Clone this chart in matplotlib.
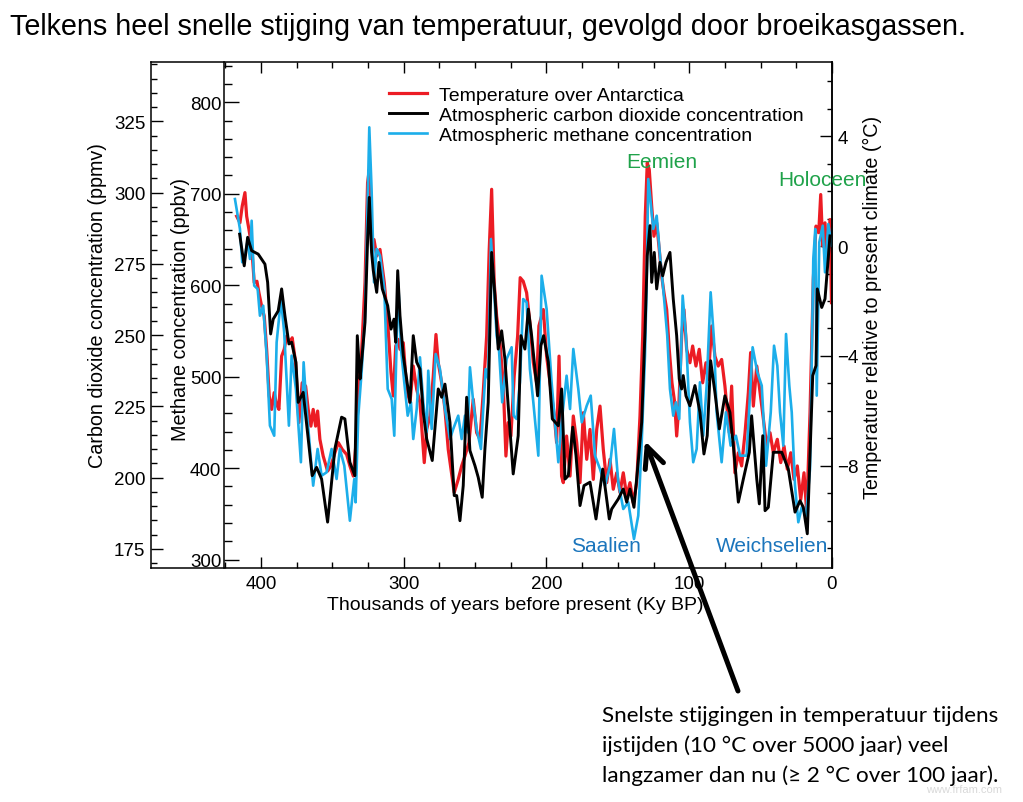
"""
Vostok ice core: temperature, CO2 and methane over the last 420 ky,
redrawn from a Dutch lecture slide.

Output
------
    out.png
"""

import matplotlib.pyplot as plt
from matplotlib.ticker import MultipleLocator, FixedLocator

plt.rcParams["font.family"] = ["Liberation Sans", "DejaVu Sans"]

W, H = 1023, 803

# ---- data ------------------------------------------------------------------
# Atmospheric CO2 (ppmv) vs age (ky BP)
co2_age = [
    414.9, 411.7, 409.3, 406.5, 401.9, 397.2, 395.3, 393.2, 391.4, 387.9,
    385.5, 383.2, 380.4, 378.5, 375.5, 373.9, 370.4, 366.9, 364.1, 361.0,
    357.5, 353.3, 348.2, 343.5, 341.2, 337.7, 334.2, 332.5, 330.6, 329.5,
    327.1, 325.3, 324.1, 322.5, 321.3, 318.9, 317.3, 315.0, 311.2, 308.9,
    306.8, 305.6, 304.2, 302.6, 300.3, 295.6, 293.3, 290.9, 288.6, 286.3,
    283.9, 280.0, 275.8, 273.4, 271.1, 267.6, 264.6, 262.9, 260.6, 258.3,
    255.9, 253.6, 250.1, 247.8, 245.0, 243.1, 240.8, 238.4, 236.1, 233.8,
    231.4, 229.1, 226.8, 223.3, 219.8, 217.9, 215.1, 212.7, 210.4, 206.2,
    203.9, 202.0, 198.7, 195.9, 191.7, 189.4, 187.0, 184.7, 181.6, 179.3,
    176.5, 173.7, 169.5, 165.3, 160.6, 156.0, 154.3, 149.7, 146.2, 143.8,
    141.5, 138.7, 136.4, 133.3, 131.0, 129.4, 127.5, 126.3, 124.5, 122.8,
    120.5, 118.6, 116.3, 113.5, 111.2, 108.8, 107.0, 105.3, 104.2, 102.3,
    99.5, 96.0, 92.5, 89.7, 87.4, 85.0, 82.0, 78.9, 75.0, 71.5,
    69.1, 65.6, 62.1, 57.9, 56.3, 52.7, 50.9, 48.5, 46.9, 44.6,
    41.1, 35.2, 30.6, 25.9, 22.4, 20.1, 17.3, 13.5, 11.2, 10.3,
    7.2, 4.9, 1.4,
]
co2_ppmv = [
    285.4, 274.3, 284.3, 279.6, 278.4, 274.9, 268.5, 250.4, 255.6, 258.5,
    266.2, 256.8, 246.9, 247.5, 240.5, 226.4, 229.9, 213.6, 200.7, 203.6,
    199.5, 184.4, 210.1, 221.2, 220.6, 205.4, 200.7, 249.8, 234.6, 240.5,
    254.5, 283.1, 298.3, 279.0, 272.6, 265.0, 275.5, 266.2, 260.3, 252.1,
    255.6, 247.5, 272.6, 256.8, 242.8, 226.4, 249.8, 240.5, 238.1, 222.9,
    213.6, 206.0, 231.1, 228.2, 232.8, 219.4, 193.7, 193.7, 184.9, 197.2,
    228.2, 209.5, 204.2, 200.1, 193.1, 210.1, 226.4, 279.0, 263.8, 245.1,
    251.5, 241.6, 225.2, 201.3, 214.7, 249.8, 245.1, 259.1, 249.8, 228.7,
    246.3, 249.8, 240.5, 220.6, 218.2, 231.1, 199.5, 200.7, 217.7, 207.7,
    190.2, 197.2, 198.4, 185.5, 203.0, 185.5, 189.0, 192.5, 196.0, 191.4,
    196.0, 189.6, 201.9, 219.4, 251.0, 277.8, 288.4, 268.5, 279.0, 266.2,
    275.5, 270.8, 275.5, 279.0, 262.7, 249.8, 234.6, 231.1, 235.8, 228.7,
    225.2, 232.3, 222.9, 208.3, 214.7, 241.0, 229.9, 217.1, 228.7, 222.9,
    211.2, 191.4, 199.5, 208.9, 221.7, 199.5, 190.8, 214.7, 188.4, 189.6,
    208.9, 208.9, 203.0, 187.9, 191.9, 189.6, 180.3, 235.8, 239.3, 266.2,
    259.7, 262.7, 284.8,
]

# Atmospheric methane (ppbv) vs age (ky BP)
ch4_age = [
    418.2, 414.7, 413.1, 411.2, 409.3, 407.7, 406.5, 404.7, 402.3, 400.7,
    398.4, 396.0, 393.7, 390.7, 389.0, 386.0, 383.7, 380.4, 378.5, 375.5,
    372.0, 370.1, 368.0, 363.4, 360.3, 357.5, 354.0, 350.5, 347.0, 344.7,
    341.6, 337.7, 334.6, 333.7, 331.8, 329.5, 327.1, 325.3, 324.1, 322.5,
    320.8, 318.9, 316.6, 313.6, 311.2, 308.4, 306.6, 304.9, 303.8, 301.9,
    299.6, 297.2, 294.9, 293.3, 290.9, 288.6, 286.3, 283.9, 282.8, 280.4,
    277.6, 274.6, 271.1, 267.6, 265.3, 261.8, 259.4, 257.1, 255.2, 253.6,
    251.3, 248.9, 245.9, 244.3, 242.6, 240.8, 238.9, 237.0, 234.9, 233.3,
    231.0, 227.9, 224.4, 223.0, 220.9, 218.6, 216.3, 213.9, 211.6, 209.2,
    205.7, 203.4, 199.9, 196.4, 191.7, 189.4, 185.9, 183.5, 181.2, 177.7,
    175.3, 171.8, 169.0, 166.0, 162.5, 159.0, 155.5, 152.7, 149.7, 146.2,
    142.7, 138.7, 135.7, 133.3, 131.0, 129.8, 128.7, 127.0, 125.2, 122.8,
    120.5, 118.2, 115.4, 113.5, 111.2, 109.3, 107.0, 104.6, 102.3, 99.5,
    97.2, 94.8, 92.5, 90.2, 87.8, 85.0, 82.7, 80.8, 77.3, 74.3,
    71.0, 67.3, 64.4, 59.8, 55.6, 52.3, 49.2, 46.2, 42.9, 40.6,
    38.3, 36.4, 34.1, 32.2, 29.9, 28.2, 25.9, 23.6, 21.2, 18.2,
    15.4, 13.1, 11.7, 10.7, 8.9, 6.5, 4.9, 2.6, 0.2,
]
ch4_ppbv = [
    694.2, 661.5, 625.1, 632.3, 648.7, 628.7, 670.5, 599.5, 595.9, 566.7,
    577.6, 523.0, 446.5, 435.5, 537.6, 584.9, 548.5, 446.5, 523.0, 486.6,
    406.5, 515.8, 464.7, 380.9, 421.0, 391.8, 395.5, 421.0, 388.2, 421.0,
    402.7, 342.6, 388.2, 362.7, 457.4, 504.8, 566.7, 686.9, 772.6, 705.2,
    603.2, 639.6, 632.3, 595.9, 486.6, 475.6, 435.5, 541.2, 603.2, 530.3,
    493.9, 457.4, 472.0, 431.9, 464.7, 521.2, 472.0, 439.2, 506.6, 442.9,
    524.8, 508.4, 464.7, 431.9, 442.9, 457.4, 431.9, 457.4, 439.2, 510.3,
    472.0, 442.9, 421.0, 464.7, 508.4, 497.5, 650.5, 603.2, 544.8, 530.3,
    472.0, 519.4, 532.2, 457.4, 453.8, 493.9, 584.9, 581.3, 508.4, 472.0,
    413.7, 610.4, 574.0, 493.9, 406.5, 450.2, 501.1, 464.7, 530.3, 486.6,
    450.2, 468.3, 479.3, 413.7, 399.1, 380.9, 402.7, 442.9, 384.6, 355.4,
    362.7, 322.6, 348.1, 428.3, 523.0, 603.2, 716.1, 690.6, 661.5, 676.0,
    632.3, 595.9, 544.8, 486.6, 457.4, 472.0, 453.8, 588.6, 544.8, 450.2,
    406.5, 421.0, 493.9, 435.5, 490.2, 592.3, 541.2, 461.1, 406.5, 461.1,
    424.6, 435.5, 413.7, 413.7, 532.2, 504.8, 490.2, 402.7, 461.1, 533.9,
    512.0, 461.1, 424.6, 546.7, 490.2, 461.1, 380.9, 340.9, 357.3, 348.1,
    399.1, 628.7, 661.5, 479.3, 646.9, 665.1, 614.1, 666.9, 643.2,
]

# Temperature over Antarctica relative to present (deg C) vs age (ky BP)
temp_age = [
    417.0, 414.7, 413.1, 411.2, 410.0, 408.4, 406.5, 404.7, 402.8, 401.4,
    399.5, 397.7, 396.0, 394.2, 392.5, 390.7, 389.0, 387.4, 385.5, 383.7,
    382.0, 379.7, 378.1, 375.7, 373.4, 371.1, 368.7, 366.9, 365.0, 363.4,
    361.7, 360.3, 358.7, 356.4, 353.3, 351.0, 348.2, 345.8, 343.0, 340.0,
    337.7, 335.3, 333.0, 331.3, 329.5, 327.1, 325.3, 324.1, 322.5, 320.8,
    318.9, 316.6, 313.6, 311.2, 308.9, 307.3, 305.6, 303.8, 302.6, 300.3,
    297.9, 295.6, 293.3, 290.9, 288.6, 285.6, 283.9, 281.6, 279.3, 277.4,
    275.8, 273.4, 271.1, 268.8, 266.9, 264.6, 261.8, 259.4, 257.1, 254.3,
    251.3, 248.9, 246.6, 244.3, 241.9, 240.1, 238.4, 236.6, 234.9, 232.6,
    230.3, 228.4, 226.8, 224.9, 222.6, 220.2, 218.4, 216.3, 213.9, 211.6,
    209.2, 206.9, 205.3, 202.2, 199.9, 197.5, 194.5, 192.9, 191.2, 189.4,
    188.2, 185.9, 183.5, 181.2, 178.8, 176.5, 174.2, 171.8, 169.5, 167.2,
    164.8, 162.5, 160.2, 157.8, 155.5, 153.2, 150.8, 148.5, 146.2, 143.8,
    141.5, 139.2, 136.8, 134.5, 132.6, 130.8, 129.4, 128.0, 126.3, 124.7,
    122.8, 121.0, 119.3, 117.7, 115.8, 114.0, 112.1, 110.2, 108.8, 107.4,
    105.3, 103.7, 101.8, 99.5, 97.6, 95.3, 93.0, 90.6, 88.3, 86.7,
    84.3, 82.0, 79.7, 77.3, 75.0, 71.9, 70.3, 68.0, 65.6, 63.3,
    60.9, 58.6, 57.0, 55.1, 52.7, 50.4, 48.1, 45.7, 43.4, 41.1,
    38.3, 35.9, 33.6, 31.3, 28.9, 26.6, 24.3, 21.9, 19.6, 17.7,
    15.4, 13.1, 11.2, 9.3, 7.9, 6.5, 4.9, 3.3, 1.4, 0.35,
]
temp_dc = [
    1.09, 0.85, 1.46, 1.95, 1.09, 0.61, 0.00, -1.33, -1.28, -1.70,
    -2.19, -2.55, -3.76, -5.46, -5.95, -5.34, -5.77, -5.95, -4.01, -3.76,
    -3.28, -3.52, -3.34, -4.25, -6.43, -4.98, -5.10, -5.95, -6.56, -5.95,
    -6.56, -6.01, -7.04, -7.65, -8.20, -8.01, -7.53, -7.16, -7.41, -7.59,
    -8.01, -8.38, -6.92, -4.61, -3.88, -1.33, 2.31, 2.79, 0.00, 0.24,
    -0.36, -0.12, -1.33, -2.79, -4.61, -5.46, -3.64, -3.40, -3.76, -3.52,
    -5.22, -5.70, -4.37, -5.22, -5.70, -7.89, -6.68, -6.19, -4.74, -3.22,
    -4.25, -4.98, -5.95, -7.41, -8.13, -8.98, -8.50, -8.01, -7.65, -7.16,
    -5.58, -6.80, -7.04, -5.34, -3.28, -0.12, 2.07, -1.33, -2.55, -3.52,
    -4.98, -7.65, -6.43, -6.92, -4.74, -3.28, -1.15, -1.28, -1.70, -2.79,
    -4.25, -4.98, -2.91, -2.31, -4.01, -4.98, -6.19, -7.16, -4.01, -8.38,
    -8.62, -6.92, -8.38, -6.19, -7.16, -8.62, -6.07, -7.77, -6.68, -8.50,
    -6.68, -5.83, -7.41, -8.62, -7.77, -8.86, -8.26, -8.98, -8.26, -9.11,
    -8.62, -9.35, -8.62, -6.19, -3.28, 1.09, 3.04, 2.79, 1.46, 0.36,
    0.85, -0.12, -1.09, -1.70, -2.31, -3.76, -4.98, -5.70, -6.92, -5.95,
    -3.28, -2.31, -3.76, -4.25, -3.64, -4.37, -3.76, -4.98, -4.25, -4.86,
    -2.91, -4.01, -4.37, -4.13, -5.10, -6.80, -5.10, -8.26, -7.53, -8.01,
    -6.80, -5.34, -3.88, -5.83, -4.37, -5.34, -6.31, -7.29, -6.80, -7.53,
    -7.04, -7.89, -7.29, -8.13, -7.53, -8.50, -8.01, -9.23, -8.26, -9.71,
    -6.07, -1.21, 0.73, 0.49, 1.88, 0.00, 0.85, -0.60, 0.97, -2.06,
]

# ---- colours ----------------------------------------------------------------
RED = "#ec1c24"
BLUE = "#1caeea"
GREEN = "#1fa24a"
DARKBLUE = "#1b75bc"

TICK_FS = 13.5
LABEL_FS = 14.0


def fx(x):
    return x / W


def fy(y):
    return 1 - y / H


fig = plt.figure(figsize=(W / 100, H / 100), dpi=100, facecolor="white")

# main axes: x axis + CO2 on the outer left spine
left, right, top, bottom = 151, 832, 63, 569
ax = fig.add_axes([fx(left), fy(bottom), (right - left) / W, (bottom - top) / H])
ax_ch4 = ax.twinx()
ax_t = ax.twinx()

for a in (ax, ax_ch4, ax_t):
    a.patch.set_visible(False)
ax_t.set_zorder(1)
ax_ch4.set_zorder(2)
ax.set_zorder(3)

l_t, = ax_t.plot(temp_age, temp_dc, color=RED, lw=2.3,
                 label="Temperature over Antarctica")
l_ch4, = ax_ch4.plot(ch4_age, ch4_ppbv, color=BLUE, lw=1.9,
                     label="Atmospheric methane concentration")
l_co2, = ax.plot(co2_age, co2_ppmv, color="black", lw=2.1,
                 label="Atmospheric carbon dioxide concentration")

ax.set_xlim(477.0, 0)
ax.set_ylim(168.3, 345.8)
ax_ch4.set_ylim(290.9, 844.0)
ax_t.set_ylim(-11.73, 6.71)

# x axis: ticks top and bottom, pointing in
ax.xaxis.set_major_locator(FixedLocator([400, 300, 200, 100, 0]))
ax.xaxis.set_minor_locator(FixedLocator([425, 375, 350, 325, 275, 250, 225,
                                         175, 150, 125, 75, 50, 25]))
ax.tick_params(axis="x", which="both", direction="in", top=True, bottom=True,
               labelsize=TICK_FS, pad=5)
ax.tick_params(axis="x", which="major", length=8, width=1)
ax.tick_params(axis="x", which="minor", length=4, width=1)

# CO2 axis
ax.yaxis.set_major_locator(MultipleLocator(25))
ax.yaxis.set_minor_locator(MultipleLocator(5))
ax.tick_params(axis="y", which="both", direction="in", left=True, right=False,
               labelsize=TICK_FS, pad=4)
ax.tick_params(axis="y", which="major", length=8.5, width=1)
ax.tick_params(axis="y", which="minor", length=4, width=1)

# methane axis: inner left spine
ax_ch4.spines["left"].set_position(("axes", (224 - left) / (right - left)))
ax_ch4.spines["left"].set_visible(True)
for s in ("right", "top", "bottom"):
    ax_ch4.spines[s].set_visible(False)
ax_ch4.yaxis.set_ticks_position("left")
ax_ch4.yaxis.set_major_locator(MultipleLocator(100))
ax_ch4.yaxis.set_minor_locator(MultipleLocator(20))
ax_ch4.tick_params(axis="y", which="both", direction="in",
                   labelsize=TICK_FS, pad=2)
ax_ch4.tick_params(axis="y", which="major", length=10.5, width=1)
ax_ch4.tick_params(axis="y", which="minor", length=5.5, width=1)

# temperature axis on the right
for s in ("left", "top", "bottom"):
    ax_t.spines[s].set_visible(False)
ax_t.yaxis.set_major_locator(MultipleLocator(4))
ax_t.yaxis.set_minor_locator(MultipleLocator(1))
ax_t.tick_params(axis="y", which="both", direction="in",
                 labelsize=TICK_FS, pad=4)
ax_t.tick_params(axis="y", which="major", length=8.5, width=1)
ax_t.tick_params(axis="y", which="minor", length=3.5, width=1)

for a in (ax, ax_ch4, ax_t):
    for s in a.spines.values():
        s.set_linewidth(1.1)

# axis labels
fig.text(fx(98), fy(306), "Carbon dioxide concentration (ppmv)",
         rotation=90, ha="center", va="center", fontsize=LABEL_FS + 0.2)
fig.text(fx(180), fy(310), "Methane concentration (ppbv)",
         rotation=90, ha="center", va="center", fontsize=LABEL_FS + 0.2)
fig.text(fx(872), fy(307), "Temperature relative to present climate (°C)",
         rotation=90, ha="center", va="center", fontsize=LABEL_FS + 0.2)
fig.text(fx(515), fy(606), "Thousands of years before present (Ky BP)",
         ha="center", va="center", fontsize=LABEL_FS)

# legend
fig.legend([l_t, l_co2, l_ch4],
           [l_t.get_label(), l_co2.get_label(), l_ch4.get_label()],
           loc="upper left", bbox_to_anchor=(fx(389), fy(87)),
           frameon=False, fontsize=14, handlelength=1.95, handletextpad=0.6,
           labelspacing=0.14, borderpad=0, borderaxespad=0)

# period names
fig.text(fx(662), fy(162), "Eemien", color=GREEN, fontsize=15,
         ha="center", va="center")
fig.text(fx(822), fy(181), "Holoceen", color=GREEN, fontsize=15,
         ha="center", va="center")
fig.text(fx(606), fy(547), "Saalien", color=DARKBLUE, fontsize=15,
         ha="center", va="center")
fig.text(fx(772), fy(547), "Weichselien", color=DARKBLUE, fontsize=15,
         ha="center", va="center")

# slide title
fig.text(fx(10), fy(27),
         "Telkens heel snelle stijging van temperatuur, gevolgd door broeikasgassen.",
         fontsize=20.7, ha="left", va="center")

# arrow pointing at the fast warming before the Eemien
arrow = plt.Annotation(
    "", xy=(645, H - 442), xytext=(738, H - 692),
    xycoords="figure pixels", textcoords="figure pixels",
    arrowprops=dict(arrowstyle="->,head_length=0.75,head_width=0.35",
                    lw=3.6, color="black", mutation_scale=20,
                    shrinkA=0, shrinkB=0),
)
arrow.set_zorder(10)
fig.add_artist(arrow)

# note under the arrow
note = ["Snelste stijgingen in temperatuur tijdens",
        "ijstijden (10 °C over 5000 jaar) veel",
        "langzamer dan nu (≥ 2 °C over 100 jaar)."]
for i, line in enumerate(note):
    fig.text(fx(602), fy(716 + 30 * i), line, fontsize=16.2,
             family=["Lato", "DejaVu Sans"], ha="left", va="center")

fig.text(fx(1002), fy(790), "www.frfam.com", fontsize=8, color="#d9d9d9",
         ha="right", va="center")

fig.savefig("out.png", dpi=100, facecolor="white")
